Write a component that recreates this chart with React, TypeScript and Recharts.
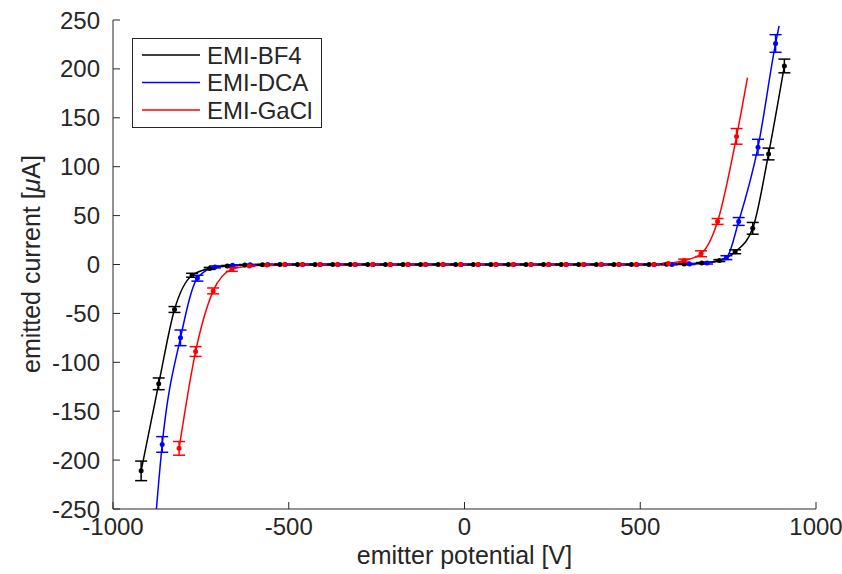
import {
    ComposedChart,
    Line,
    Scatter,
    ErrorBar,
    XAxis,
    YAxis,
    Legend,
    Label,
} from "recharts";

const FONT = '"Liberation Sans", Arial, Helvetica, sans-serif';
const AXIS_COLOR = "#262626";

const xTicks = [-1000, -500, 0, 500, 1000];
const yTicks = [-250, -200, -150, -100, -50, 0, 50, 100, 150, 200, 250];

const seriesNames = ["EMI-BF4", "EMI-DCA", "EMI-GaCl"];
const seriesColors = ["#000000", "#0000ff", "#ff0000"];

// EMI-BF4 (black)
const bf4Potential = [
    -920, -870, -825, -775, -725, -675, -625, -575, -525, -475, -425, -375, -325,
    -275, -225, -175, -125, -75, -25, 25, 75, 125, 175, 225, 275, 325, 375, 425,
    475, 525, 575, 625, 675, 725, 770, 820, 865, 910,
];
const bf4Current = [
    -211, -122, -46, -11, -4, -1.5, -0.5, -0.2, 0, 0, 0, 0, 0, 0, 0, 0, 0, 0, 0,
    0, 0, 0, 0, 0, 0, 0, 0, 0, 0, 0, 0.2, 0.5, 1.5, 4, 13, 37, 113, 203,
];
const bf4Error = [
    10, 6, 3, 2, 1, 0.5, 0.5, 0.5, 0.5, 0.5, 0.5, 0.5, 0.5, 0.5, 0.5, 0.5, 0.5,
    0.5, 0.5, 0.5, 0.5, 0.5, 0.5, 0.5, 0.5, 0.5, 0.5, 0.5, 0.5, 0.5, 0.5, 0.5,
    0.5, 1, 2, 6, 6, 7,
];

// EMI-DCA (blue)
const dcaPotential = [
    -860, -808, -760, -710, -660, -610, -560, -510, -460, -410, -360, -310, -260,
    -210, -160, -110, -60, -10, 40, 90, 140, 190, 240, 290, 340, 390, 440, 490,
    540, 590, 640, 690, 745, 780, 835, 885,
];
const dcaCurrent = [
    -184, -75, -14, -2.5, -0.8, -0.3, -0.1, 0, 0, 0, 0, 0, 0, 0, 0, 0, 0, 0, 0,
    0, 0, 0, 0, 0, 0, 0, 0, 0, 0, 0.1, 0.4, 1.5, 7, 44, 120, 226,
];
const dcaError = [
    8, 8, 3, 1, 0.5, 0.5, 0.5, 0.5, 0.5, 0.5, 0.5, 0.5, 0.5, 0.5, 0.5, 0.5, 0.5,
    0.5, 0.5, 0.5, 0.5, 0.5, 0.5, 0.5, 0.5, 0.5, 0.5, 0.5, 0.5, 0.5, 0.5, 1, 2,
    4, 8, 9,
];
// the fitted curve runs on past the outer points
const dcaLineStart = { x: -880, y: -265 };
const dcaLineEnd = { x: 895, y: 244 };

// EMI-GaCl (red)
const gaclPotential = [
    -812, -765, -715, -662, -612, -562, -512, -462, -412, -362, -312, -262, -212,
    -162, -112, -62, -12, 38, 88, 138, 188, 238, 288, 338, 388, 438, 488, 538,
    580, 625, 673, 720, 774,
];
const gaclCurrent = [
    -188, -89, -27, -5, -1.5, -0.5, 0, 0, 0, 0, 0, 0, 0, 0, 0, 0, 0, 0, 0, 0, 0,
    0, 0, 0, 0, 0, 0, 0, 1, 4, 11, 44, 131,
];
const gaclError = [
    7, 5, 3, 2, 0.5, 0.5, 0.5, 0.5, 0.5, 0.5, 0.5, 0.5, 0.5, 0.5, 0.5, 0.5, 0.5,
    0.5, 0.5, 0.5, 0.5, 0.5, 0.5, 0.5, 0.5, 0.5, 0.5, 0.5, 0.5, 1.5, 3, 3, 8,
];
const gaclLineEnd = { x: 805, y: 191 };

const toPoints = (xs: number[], ys: number[], es: number[]) =>
    xs.map((x, i) => ({ x, y: ys[i], err: es[i] }));

const bf4Points = toPoints(bf4Potential, bf4Current, bf4Error);
const dcaPoints = toPoints(dcaPotential, dcaCurrent, dcaError);
const gaclPoints = toPoints(gaclPotential, gaclCurrent, gaclError);

const series = [
    { points: bf4Points, line: bf4Points },
    { points: dcaPoints, line: [dcaLineStart, ...dcaPoints, dcaLineEnd] },
    { points: gaclPoints, line: [...gaclPoints, gaclLineEnd] },
];

function LegendBox() {
    return (
        <svg width={190} height={90} style={{ display: "block" }}>
            <rect x={0.5} y={0.5} width={189} height={89} fill="#fff" stroke={AXIS_COLOR} />
            {seriesNames.map((name, i) => {
                const y = 17 + 27.5 * i;
                return (
                    <g key={name}>
                        <line x1={10} x2={68} y1={y} y2={y} stroke={seriesColors[i]} strokeWidth={1.5} />
                        <text
                            x={75}
                            y={y}
                            dominantBaseline="central"
                            fontSize={24}
                            fontFamily={FONT}
                            fill={AXIS_COLOR}
                        >
                            {name}
                        </text>
                    </g>
                );
            })}
        </svg>
    );
}

export default function App() {
    return (
        <div style={{ position: "absolute", left: 0, top: 0, background: "#fff" }}>
            <ComposedChart
                width={842}
                height={574}
                margin={{ top: 20, right: 26, bottom: 0, left: 0 }}
            >
                <XAxis
                    type="number"
                    dataKey="x"
                    domain={[-1000, 1000]}
                    ticks={xTicks}
                    interval={0}
                    allowDataOverflow
                    height={65}
                    tickSize={-7}
                    tickMargin={16}
                    axisLine={{ stroke: AXIS_COLOR }}
                    tickLine={{ stroke: AXIS_COLOR }}
                    tick={{ fill: AXIS_COLOR, fontSize: 24, fontFamily: FONT }}
                >
                    <Label
                        content={() => (
                            <text
                                x={464.5}
                                y={564}
                                textAnchor="middle"
                                fontSize={25}
                                fontFamily={FONT}
                                fill={AXIS_COLOR}
                            >
                                emitter potential [V]
                            </text>
                        )}
                    />
                </XAxis>
                <YAxis
                    type="number"
                    dataKey="y"
                    domain={[-250, 250]}
                    ticks={yTicks}
                    interval={0}
                    allowDataOverflow
                    width={113}
                    tickSize={-7}
                    tickMargin={20}
                    axisLine={{ stroke: AXIS_COLOR }}
                    tickLine={{ stroke: AXIS_COLOR }}
                    tick={{ fill: AXIS_COLOR, fontSize: 24, fontFamily: FONT }}
                >
                    <Label
                        content={() => (
                            <text
                                x={31}
                                y={264}
                                transform="rotate(-90 31 264)"
                                textAnchor="middle"
                                dominantBaseline="central"
                                fontSize={25}
                                fontFamily={FONT}
                                fill={AXIS_COLOR}
                            >
                                emitted current [<tspan fontStyle="italic">μ</tspan>A]
                            </text>
                        )}
                    />
                </YAxis>
                {series.map((s, i) => (
                    <Line
                        key={`line-${seriesNames[i]}`}
                        data={s.line}
                        dataKey="y"
                        type="monotone"
                        stroke={seriesColors[i]}
                        strokeWidth={1.5}
                        dot={false}
                        activeDot={false}
                        isAnimationActive={false}
                        legendType="none"
                    />
                ))}
                {series.map((s, i) => (
                    <Scatter
                        key={`pts-${seriesNames[i]}`}
                        data={s.points}
                        dataKey="y"
                        fill={seriesColors[i]}
                        isAnimationActive={false}
                        shape={(p: any) => (
                            <circle cx={p.cx} cy={p.cy} r={2.5} fill={seriesColors[i]} />
                        )}
                    >
                        <ErrorBar
                            dataKey="err"
                            direction="y"
                            width={6}
                            stroke={seriesColors[i]}
                            strokeWidth={1.5}
                            isAnimationActive={false}
                        />
                    </Scatter>
                ))}
                <Legend
                    layout="vertical"
                    align="center"
                    verticalAlign="middle"
                    wrapperStyle={{ left: 132, top: 38, width: 190, height: 90 }}
                    content={() => <LegendBox />}
                />
            </ComposedChart>
        </div>
    );
}
